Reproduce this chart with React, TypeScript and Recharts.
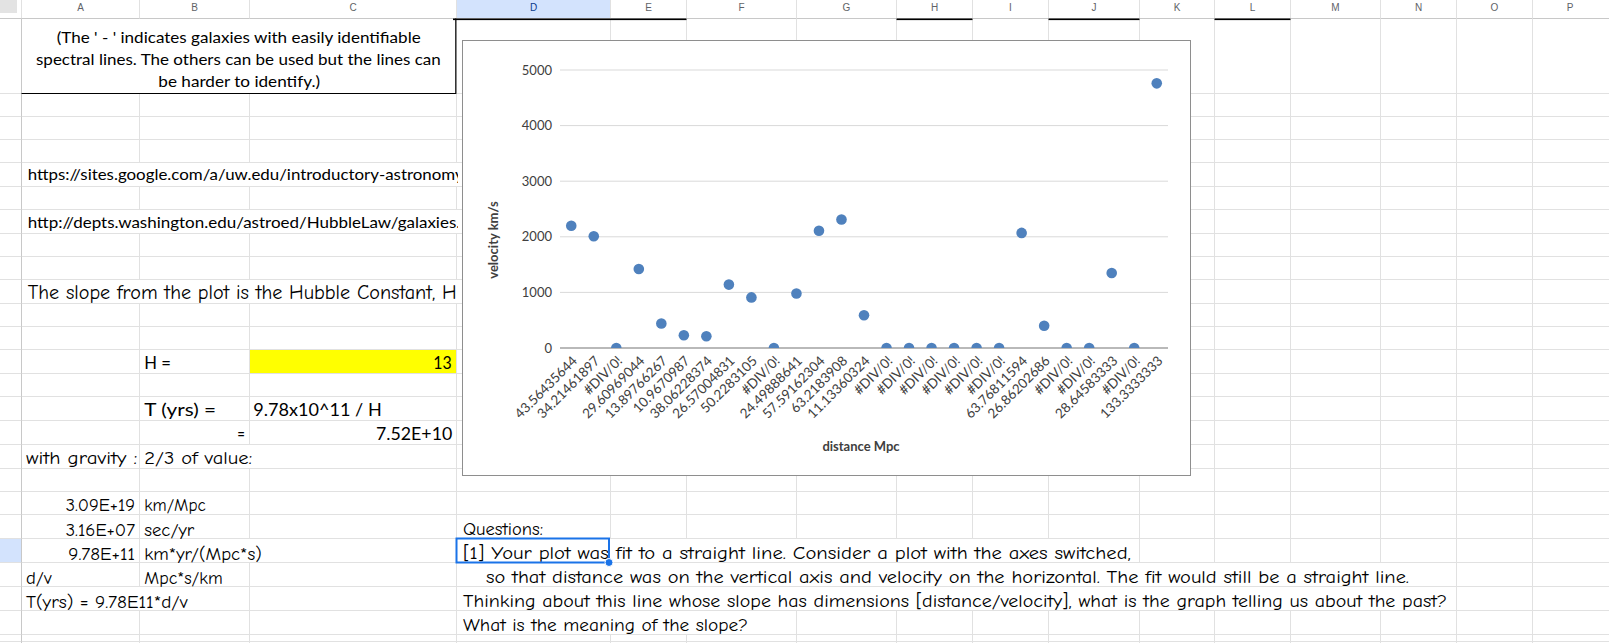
import React from 'react';
import { ScatterChart, Scatter, XAxis, YAxis, CartesianGrid, Label } from 'recharts';

// ---------- chart data ----------
const distanceLabels = [
  '43.56435644', '34.21461897', '#DIV/0!', '29.60969044', '13.89766267', '10.9670987',
  '38.06228374', '26.57004831', '50.2283105', '#DIV/0!', '24.49888641', '57.59162304',
  '63.2183908', '11.13360324', '#DIV/0!', '#DIV/0!', '#DIV/0!', '#DIV/0!', '#DIV/0!',
  '#DIV/0!', '63.76811594', '26.86202686', '#DIV/0!', '#DIV/0!', '28.64583333', '#DIV/0!',
  '133.3333333',
];
const velocities = [
  2200, 2010, 0, 1420, 440, 230, 210, 1140, 910, 0, 980, 2110, 2310, 590,
  0, 0, 0, 0, 0, 0, 2070, 400, 0, 0, 1350, 0, 4760,
];
const yTicks = [0, 1000, 2000, 3000, 4000, 5000];
const xTitle = 'distance Mpc';
const yTitle = 'velocity km/s';

const points = velocities.map((v, i) => ({ i, v }));
const xTicks = distanceLabels.map((_, i) => i);

// ---------- spreadsheet decoration ----------
const colLetters = ['A', 'B', 'C', 'D', 'E', 'F', 'G', 'H', 'I', 'J', 'K', 'L', 'M', 'N', 'O', 'P'];
const colX = [21.5, 139.5, 249.5, 456.5, 610.5, 686.5, 796.5, 896.5, 972.5, 1048.5, 1139.5, 1214.5, 1290.5, 1380.5, 1456.5, 1532.5, 1609];
const rowY = [18.5, 93.5, 116.5, 139.5, 162.5, 186.5, 209.5, 233.5, 256.5, 279.5, 303.5, 326.5, 349.5, 373.5, 396.5, 420.5, 444.5, 468.5, 491.5, 514.5, 538.5, 562.5, 586.5, 610.5, 634.5, 641.5, 643];
const D_ROWS = [610.5, 686.5, 796.5, 896.5, 972.5, 1048.5, 1139.5, 1214.5, 1290.5, 1380.5];
const hiddenV: Record<number, number[]> = {
  0: [139.5, 249.5],
  4: [139.5, 249.5, 456.5],
  6: [139.5, 249.5, 456.5],
  9: [139.5, 249.5, 456.5],
  16: [249.5],
  20: [249.5, ...D_ROWS.slice(0, 6)],
  21: D_ROWS,
  22: [139.5, ...D_ROWS],
  23: [610.5, 686.5],
};

const COMIC = "'Comic Sans MS', 'Comic Neue', Roboto, sans-serif";
const GOTHIC = "'Century Gothic', Lato, sans-serif";
const CAL = "Lato, sans-serif";

type T = { t: string; x: number; y: number; w?: number; f: string; s: number; end?: boolean };
const texts: T[] = [
  { t: "(The ' - ' indicates galaxies with easily identifiable", x: 56.7, y: 42.5, w: 364, f: CAL, s: 15 },
  { t: 'spectral lines. The others can be used but the lines can', x: 36, y: 64.5, w: 404.7, f: CAL, s: 15 },
  { t: 'be harder to identify.)', x: 158.3, y: 86.5, w: 161.7, f: CAL, s: 15 },
  { t: 'https://sites.google.com/a/uw.edu/introductory-astronomy', x: 27.7, y: 180, w: 436, f: CAL, s: 15 },
  { t: 'http://depts.washington.edu/astroed/HubbleLaw/galaxies.html', x: 27.7, y: 228, w: 466, f: CAL, s: 15 },
  { t: 'The slope from the plot is the Hubble Constant, H', x: 27.7, y: 298.5, w: 429, f: COMIC, s: 19.5 },
  { t: 'H =', x: 144.3, y: 369, w: 26.7, f: GOTHIC, s: 17 },
  { t: '13', x: 451.7, y: 369, w: 18.4, f: GOTHIC, s: 17, end: true },
  { t: 'T (yrs) =', x: 144.3, y: 416, w: 71.7, f: GOTHIC, s: 17 },
  { t: '9.78x10^11 / H', x: 253.3, y: 416, w: 128.4, f: GOTHIC, s: 17 },
  { t: '=', x: 245, y: 440, w: 7.7, f: GOTHIC, s: 17, end: true },
  { t: '7.52E+10', x: 452.3, y: 440, w: 76.3, f: GOTHIC, s: 17, end: true },
  { t: 'with gravity :', x: 26, y: 464, w: 111.3, f: COMIC, s: 18.5 },
  { t: '2/3 of value:', x: 144.3, y: 464, w: 108, f: COMIC, s: 18.5 },
  { t: '3.09E+19', x: 135, y: 511, w: 69.3, f: COMIC, s: 18.5, end: true },
  { t: 'km/Mpc', x: 144.3, y: 511, w: 61.4, f: COMIC, s: 18.5 },
  { t: '3.16E+07', x: 135, y: 535.5, w: 69.3, f: COMIC, s: 18.5, end: true },
  { t: 'sec/yr', x: 144.3, y: 535.5, w: 50, f: COMIC, s: 18.5 },
  { t: '9.78E+11', x: 135, y: 559.5, w: 66.7, f: COMIC, s: 18.5, end: true },
  { t: 'km*yr/(Mpc*s)', x: 144.3, y: 559.5, w: 117.4, f: COMIC, s: 18.5 },
  { t: 'd/v', x: 26, y: 583.5, w: 25.7, f: COMIC, s: 18.5 },
  { t: 'Mpc*s/km', x: 144.3, y: 583.5, w: 78.4, f: COMIC, s: 18.5 },
  { t: 'T(yrs) = 9.78E11*d/v', x: 26, y: 607.5, w: 161.7, f: COMIC, s: 18.5 },
  { t: 'Questions:', x: 463, y: 535, w: 80, f: COMIC, s: 18.5 },
  { t: '[1] Your plot was fit to a straight line.  Consider a plot with the axes switched,', x: 463, y: 559, w: 668, f: COMIC, s: 18.5 },
  { t: 'so that distance was on the vertical axis and velocity on the horizontal. The fit would still be a straight line.', x: 486, y: 583, w: 923, f: COMIC, s: 18.5 },
  { t: 'Thinking about this line whose slope has dimensions [distance/velocity], what is the graph telling us about the past?', x: 463, y: 607, w: 984, f: COMIC, s: 18.5 },
  { t: 'What is the meaning of the slope?', x: 463, y: 631, w: 285, f: COMIC, s: 18.5 },
];

function Sheet() {
  const grid = '#e1e1e1';
  const vlines: React.ReactNode[] = [];
  colX.slice(0, 16).forEach((cx, ci) => {
    vlines.push(<line key={`h${ci}`} x1={cx} x2={cx} y1={0} y2={18.5} stroke={grid} />);
    for (let r = 0; r < rowY.length - 1; r++) {
      if (hiddenV[r] && hiddenV[r].includes(cx)) continue;
      vlines.push(<line key={`v${ci}-${r}`} x1={cx} x2={cx} y1={rowY[r]} y2={rowY[r + 1]} stroke={ci === 0 ? '#c8c8c8' : grid} />);
    }
  });
  return (
    <svg width={1609} height={643} style={{ position: 'absolute', left: 0, top: 0 }}>
      <defs>
        <clipPath id="leftclip"><rect x={0} y={0} width={458} height={643} /></clipPath>
      </defs>
      <rect x={0} y={0} width={1609} height={643} fill="#fff" />
      <rect x={456.5} y={0} width={154} height={18.5} fill="#d3e3fd" />
      <rect x={0} y={538.5} width={21.5} height={24} fill="#d3e3fd" />
      <rect x={0} y={0} width={17} height={13} fill="#e3e3e3" />
      <rect x={249.5} y={349.5} width={207} height={24} fill="#ffff00" />
      {rowY.slice(0, -1).map((y, i) => (
        <line key={`r${i}`} x1={0} x2={1609} y1={y} y2={y} stroke={i === 0 ? '#c8c8c8' : grid} />
      ))}
      {vlines}
      {colLetters.map((c, i) => (
        <text key={c} x={i === 15 ? 1570 : (colX[i] + colX[i + 1]) / 2} y={11} textAnchor="middle"
          fontFamily="'Liberation Sans', Arial, sans-serif" fontSize={10}
          fill={c === 'D' ? '#0b3a8c' : '#5f6368'}>{c}</text>
      ))}
      {/* black cell borders */}
      <line x1={21.5} x2={456} y1={93.5} y2={93.5} stroke="#000" strokeWidth={1.2} />
      <line x1={455.8} x2={455.8} y1={18.5} y2={94} stroke="#000" strokeWidth={1.2} />
      {[[453, 686.5], [896.5, 972.5], [1048.5, 1139.5], [1214.5, 1290.5]].map(([a, b], i) => (
        <rect key={`bb${i}`} x={a} y={18.5} width={b - a} height={1.6} fill="#000" />
      ))}
      {texts.map((d, i) => {
        const x = d.end && d.w ? d.x - d.w : d.x;
        const clip = d.x < 456 && !d.end && d.w && d.x + d.w > 456;
        return (
          <text key={`t${i}`} x={x} y={d.y} fontFamily={d.f} fontSize={d.s} fill="#000"
            textLength={d.w} lengthAdjust="spacingAndGlyphs"
            clipPath={clip ? 'url(#leftclip)' : undefined}>{d.t}</text>
        );
      })}
      <rect x={456.5} y={538.5} width={152.5} height={24} fill="none" stroke="#1a73e8" strokeWidth={2} />
      <circle cx={609} cy={562.5} r={4} fill="#1a73e8" stroke="#fff" strokeWidth={1} />
    </svg>
  );
}

function XTick(props: any) {
  const { x, y, payload } = props;
  const label = distanceLabels[payload.value];
  return (
    <g transform={`translate(${x},${y + 5})`}>
      <text transform="rotate(-45)" x={0} y={9.5} textAnchor="end" fontFamily={CAL} fontSize={13.5} fill="#404040">{label}</text>
    </g>
  );
}

function Dot(props: any) {
  const { cx, cy } = props;
  return <circle cx={cx} cy={cy} r={5.3} fill="#4f81bd" />;
}

export default function App() {
  return (
    <div style={{ position: 'fixed', left: 0, top: 0, width: 1609, height: 643, background: '#fff', overflow: 'hidden' }}>
      <Sheet />
      <div style={{ position: 'absolute', left: 462, top: 40, width: 729, height: 436, background: '#fff' }}>
        <ScatterChart width={729} height={436} margin={{ top: 30, right: 23, bottom: 0, left: 0 }}>
          <CartesianGrid vertical={false} stroke="#d9d9d9" />
          <XAxis type="number" dataKey="i" domain={[-0.5, 26.5]} ticks={xTicks} interval={0}
            tick={<XTick />} tickLine={false} tickSize={0} axisLine={{ stroke: '#868686' }} height={128}>
            <Label content={(p: any) => {
              const vb = p.viewBox || { x: 98, width: 608 };
              return <text x={vb.x + vb.width / 2 - 3} y={411} textAnchor="middle" fontFamily={CAL} fontWeight="bold" fontSize={13} fill="#404040">{xTitle}</text>;
            }} />
          </XAxis>
          <YAxis type="number" dataKey="v" domain={[0, 5000]} ticks={yTicks} allowDataOverflow
            axisLine={false} tickLine={false} tickSize={0} tickMargin={8} width={98}
            tick={{ fontFamily: CAL, fontSize: 13, fill: '#404040' }}>
            <Label content={() => (
              <text x={31} y={200} transform="rotate(-90 31 200)" textAnchor="middle" dominantBaseline="central"
                fontFamily={CAL} fontWeight="bold" fontSize={13} fill="#404040">{yTitle}</text>
            )} />
          </YAxis>
          <Scatter data={points} shape={<Dot />} isAnimationActive={false} />
        </ScatterChart>
        <div style={{ position: 'absolute', left: 0, top: 0, width: 729, height: 436, border: '1px solid #8e8e8e', boxSizing: 'border-box', pointerEvents: 'none' }} />
      </div>
    </div>
  );
}
